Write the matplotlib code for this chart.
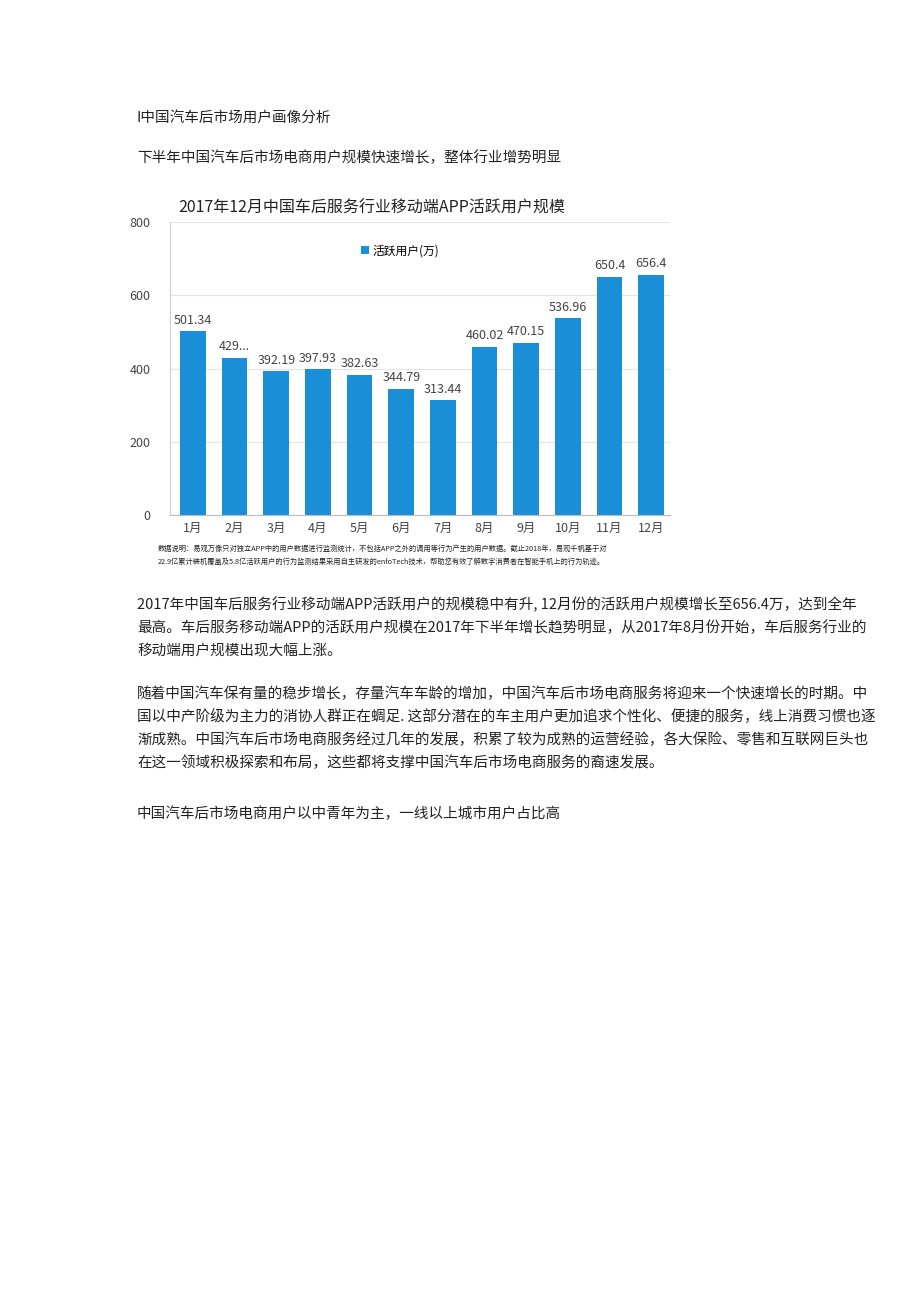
import matplotlib.pyplot as plt

plt.rcParams["font.family"] = ["Noto Sans CJK SC", "DejaVu Sans"]

months = ["1月", "2月", "3月", "4月", "5月", "6月", "7月", "8月", "9月", "10月", "11月", "12月"]
users = [501.34, 429.0, 392.19, 397.93, 382.63, 344.79, 313.44, 460.02, 470.15, 536.96, 650.4, 656.4]
value_labels = ["501.34", "429...", "392.19", "397.93", "382.63", "344.79", "313.44",
                "460.02", "470.15", "536.96", "650.4", "656.4"]
yticks = [0, 200, 400, 600, 800]

W, H = 920, 1301
fig = plt.figure(figsize=(W / 100, H / 100), dpi=100)


def put(x, y, s, size=10.5, **kw):
    fig.text(x / W, 1 - y / H, s, fontsize=size, va="center", ha="left", color="#222222", **kw)


put(137, 118, "I中国汽车后市场用户画像分析")
put(137, 158, "下半年中国汽车后市场电商用户规模快速增长，整体行业增势明显")
put(178, 208, "2017年12月中国车后服务行业移动端APP活跃用户规模", size=11.5)

ax = fig.add_axes([170 / W, 1 - 515 / H, 500 / W, 293 / H])
x = range(len(months))
bars = ax.bar(x, users, width=0.62, color="#1a8fd8")
for b, lab in zip(bars, value_labels):
    ax.text(b.get_x() + b.get_width() / 2, b.get_height() + 12, lab,
            ha="center", va="bottom", fontsize=9, color="#444444")
ax.set_ylim(0, 800)
ax.set_xlim(-0.55, 11.45)
ax.set_yticks(yticks)
ax.tick_params(axis="y", length=0, labelsize=9, labelcolor="#444444", pad=14)
ax.set_xticks(list(x))
ax.set_xticklabels(months, fontsize=9, color="#444444")
ax.tick_params(axis="x", length=0, pad=5)
ax.grid(axis="y", color="#e4e4e4", linewidth=0.8)
ax.set_axisbelow(True)
for s in ["top", "right"]:
    ax.spines[s].set_visible(False)
ax.spines["left"].set_color("#cccccc")
ax.spines["bottom"].set_color("#bbbbbb")
ax.bar([0], [0], color="#1a8fd8", label="活跃用户(万)")
ax.legend(loc="upper left", bbox_to_anchor=(0.36, 0.96), frameon=False,
          fontsize=8.5, handlelength=0.7, handleheight=0.7, handletextpad=0.3)

put(158, 549, "数据说明：易观万像只对独立APP中的用户数据进行监测统计，不包括APP之外的调用等行为产生的用户数据。截止2018年，易观千帆基于对", size=5.2)
put(158, 562, "22.9亿累计装机覆盖及5.8亿活跃用户的行为监测结果采用自主研发的enfoTech技术，帮助您有效了解数字消费者在智能手机上的行为轨迹。", size=5.2)

para1 = ["2017年中国车后服务行业移动端APP活跃用户的规模稳中有升, 12月份的活跃用户规模增长至656.4万，达到全年",
         "最高。车后服务移动端APP的活跃用户规模在2017年下半年增长趋势明显，从2017年8月份开始，车后服务行业的",
         "移动端用户规模出现大幅上涨。"]
para2 = ["随着中国汽车保有量的稳步增长，存量汽车车龄的增加，中国汽车后市场电商服务将迎来一个快速增长的时期。中",
         "国以中产阶级为主力的消协人群正在蜩足. 这部分潜在的车主用户更加追求个性化、便捷的服务，线上消费习惯也逐",
         "渐成熟。中国汽车后市场电商服务经过几年的发展，积累了较为成熟的运营经验，各大保险、零售和互联网巨头也",
         "在这一领域积极探索和布局，这些都将支撑中国汽车后市场电商服务的裔速发展。"]
for i, line in enumerate(para1):
    put(137, 605 + 23 * i, line)
for i, line in enumerate(para2):
    put(137, 694 + 23 * i, line)
put(137, 814, "中国汽车后市场电商用户以中青年为主，一线以上城市用户占比高")

fig.savefig("out.png", dpi=100)
